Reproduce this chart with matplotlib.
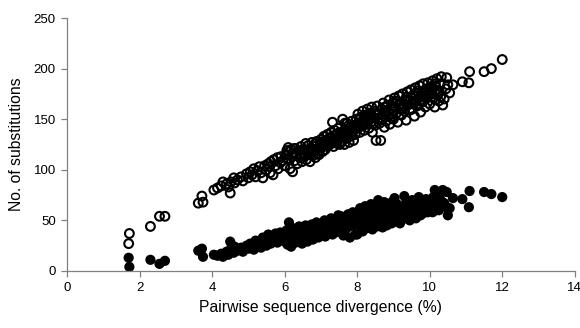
import matplotlib.pyplot as plt

plt.rcParams['font.family'] = ['Liberation Sans', 'DejaVu Sans']

# pairwise sequence divergence (%) for each pair of sequences
divergence = [
    1.70, 1.72, 2.30, 2.55, 2.70, 3.62, 3.72, 3.75,
    4.05, 4.15, 4.25, 4.30, 4.40, 4.45, 4.50, 4.52, 4.60, 4.62, 4.70, 4.80, 4.85, 4.95, 5.00,
    5.05, 5.10, 5.15, 5.20, 5.25, 5.30, 5.35, 5.40, 5.45, 5.50, 5.55, 5.60, 5.62, 5.68, 5.70,
    5.75, 5.80, 5.82, 5.88, 5.90, 5.95, 6.00,
    6.05, 6.08, 6.10, 6.12, 6.15, 6.18, 6.20, 6.22, 6.25, 6.28, 6.30, 6.33, 6.35, 6.40, 6.42,
    6.45, 6.48, 6.50, 6.53, 6.55, 6.58, 6.60, 6.63, 6.65, 6.68, 6.70, 6.72, 6.75, 6.78, 6.80,
    6.83, 6.85, 6.88, 6.90, 6.93, 6.95, 6.98,
    7.00, 7.03, 7.05, 7.08, 7.10, 7.12, 7.15, 7.18, 7.20, 7.22, 7.25, 7.28, 7.30, 7.32, 7.35,
    7.38, 7.40, 7.42, 7.45, 7.48, 7.50, 7.52, 7.55, 7.58, 7.60, 7.62, 7.65, 7.68, 7.70, 7.72,
    7.75, 7.78, 7.80, 7.82, 7.85, 7.88, 7.90, 7.93, 7.95, 7.98,
    8.00, 8.02, 8.05, 8.08, 8.10, 8.12, 8.15, 8.18, 8.20, 8.22, 8.25, 8.28, 8.30, 8.32, 8.35,
    8.38, 8.40, 8.42, 8.45, 8.48, 8.50, 8.52, 8.55, 8.58, 8.60, 8.62, 8.65, 8.68, 8.70, 8.72,
    8.75, 8.78, 8.80, 8.82, 8.85, 8.88, 8.90, 8.93, 8.95, 8.98,
    9.00, 9.03, 9.05, 9.08, 9.10, 9.12, 9.15, 9.18, 9.20, 9.22, 9.25, 9.28, 9.30, 9.32, 9.35,
    9.38, 9.40, 9.42, 9.45, 9.48, 9.50, 9.52, 9.55, 9.58, 9.60, 9.62, 9.65, 9.68, 9.70, 9.72,
    9.75, 9.78, 9.80, 9.82, 9.85, 9.88, 9.90, 9.92, 9.95, 9.98,
    10.00, 10.03, 10.05, 10.08, 10.10, 10.14, 10.15, 10.18, 10.20, 10.22, 10.25, 10.28, 10.30,
    10.32, 10.36, 10.40, 10.45, 10.47, 10.50, 10.55, 10.64, 10.90, 11.08, 11.10, 11.50, 11.70,
    12.00,
    7.06, 7.16, 7.26, 7.36, 7.46, 7.56, 7.66, 7.76, 7.86, 7.96,
    8.06, 8.16, 8.26, 8.36, 8.46, 8.56, 8.66, 8.76, 8.86, 8.96,
    9.06, 9.16, 9.26, 9.36, 9.46, 9.56, 9.66, 9.76, 9.86, 9.96,
    10.06, 10.16, 10.26, 6.06, 6.26, 6.46, 6.66, 6.86, 6.96, 5.58,
]

# open circles: total substitutions
total_subs = [
    27, 37, 44, 54, 54, 67, 74, 68,
    80, 82, 84, 88, 86, 83, 77, 88, 92, 87, 90, 93, 89, 96, 92,
    98, 95, 101, 93, 99, 103, 97, 92, 104, 100, 106, 97, 108, 95, 110,
    104, 112, 101, 107, 113, 109, 104,
    115, 111, 122, 118, 101, 120, 113, 98, 116, 109, 121, 114, 106, 119, 112,
    123, 108, 117, 120, 113, 126, 110, 118, 124, 115, 108, 121, 127, 114, 119,
    123, 112, 128, 116, 121, 115, 125,
    130, 122, 118, 133, 126, 120, 129, 135, 124, 131, 125, 137, 127, 147, 123,
    139, 129, 135, 126, 141, 131, 125, 137, 128, 150, 134, 125, 140, 131, 146,
    136, 127, 142, 133, 148, 138, 129, 144, 135, 150,
    141, 155, 146, 137, 152, 143, 158, 148, 139, 154, 145, 160, 150, 141, 156,
    147, 162, 137, 152, 158, 144, 129, 163, 150, 155, 146, 129, 160, 151, 166,
    142, 157, 148, 163, 153, 169, 145, 160, 155, 166,
    150, 171, 162, 156, 167, 147, 173, 160, 165, 154, 175, 163, 158, 169, 149,
    177, 164, 170, 159, 179, 166, 160, 174, 153, 181, 168, 163, 176, 171, 183,
    157, 173, 167, 185, 176, 162, 180, 171, 186, 175,
    165, 182, 177, 188, 171, 162, 185, 179, 190, 174, 168, 185, 172,
    192, 164, 170, 180, 191, 184, 176, 184, 187, 186, 197, 197, 200,
    209,
    128, 124, 132, 130, 136, 132, 146, 140, 134, 143,
    150, 144, 152, 150, 146, 155, 150, 162, 158, 151,
    168, 164, 160, 172, 168, 165, 178, 168, 172, 180,
    175, 183, 178, 119, 121, 115, 120, 126, 119, 103,
]

# filled circles: subset of substitutions
part_subs = [
    13, 4, 11, 7, 10, 20, 22, 14,
    16, 15, 17, 14, 19, 16, 29, 22, 18, 24, 20, 23, 19, 25, 22,
    27, 24, 21, 30, 26, 28, 23, 33, 29, 25, 36, 31, 27, 34, 30,
    37, 28, 33, 38, 31, 35, 29,
    40, 26, 35, 48, 32, 24, 37, 30, 42, 33, 28, 39, 34, 44, 31,
    37, 27, 41, 35, 32, 45, 38, 29, 43, 36, 40, 33, 46, 31, 39,
    44, 35, 48, 37, 33, 42, 39,
    41, 36, 45, 38, 50, 34, 43, 39, 47, 37, 42, 52, 40, 36, 46,
    44, 38, 49, 41, 55, 45, 39, 48, 43, 51, 35, 46, 53, 42, 49,
    56, 44, 33, 51, 47, 58, 45, 53, 36, 49,
    36, 55, 48, 62, 44, 52, 39, 57, 47, 64, 42, 53, 49, 59, 45,
    66, 51, 41, 56, 48, 61, 53, 44, 70, 50, 58, 47, 63, 43, 55,
    68, 49, 59, 45, 54, 64, 51, 57, 47, 61,
    53, 72, 49, 58, 66, 52, 60, 47, 56, 63, 51, 59, 74, 55, 61,
    53, 67, 57, 50, 62, 58, 70, 54, 64, 59, 52, 66, 57, 73, 61,
    55, 68, 60, 57, 65, 59, 71, 62, 58, 67,
    61, 69, 64, 58, 73, 80, 67, 76, 65, 71, 60, 76, 64,
    69, 80, 67, 63, 78, 55, 62, 72, 71, 63, 79, 78, 76,
    73,
    44, 48, 41, 50, 47, 54, 44, 52, 55, 47,
    58, 50, 46, 60, 54, 66, 56, 61, 52, 68,
    56, 63, 57, 69, 55, 60, 64, 59, 70, 63,
    68, 60, 73, 33, 37, 40, 34, 42, 46, 32,
]

x_ticks = [0, 2, 4, 6, 8, 10, 12, 14]
y_ticks = [0, 50, 100, 150, 200, 250]

fig = plt.figure(figsize=(5.8, 3.28), dpi=100)
ax = fig.add_axes([0.1155, 0.174, 0.8755, 0.771])

ax.scatter(divergence, part_subs, s=54, c='black', edgecolors='none', zorder=2)
ax.scatter(divergence, total_subs, s=40, facecolors='none', edgecolors='black',
           linewidths=1.5, zorder=3)

ax.set_xlim(0, 14)
ax.set_ylim(0, 250)
ax.set_xticks(x_ticks)
ax.set_yticks(y_ticks)

for side in ['top', 'right']:
    ax.spines[side].set_visible(False)
for side in ['left', 'bottom']:
    ax.spines[side].set_color('#808080')
    ax.spines[side].set_linewidth(0.9)

ax.tick_params(axis='both', direction='out', length=4, width=0.9, color='#808080',
               labelsize=9.5, pad=4)
ax.set_xlabel('Pairwise sequence divergence (%)', fontsize=11.3, labelpad=4)
ax.set_ylabel('No. of substitutions', fontsize=11.3, labelpad=7)

fig.savefig('out.png', dpi=100)
